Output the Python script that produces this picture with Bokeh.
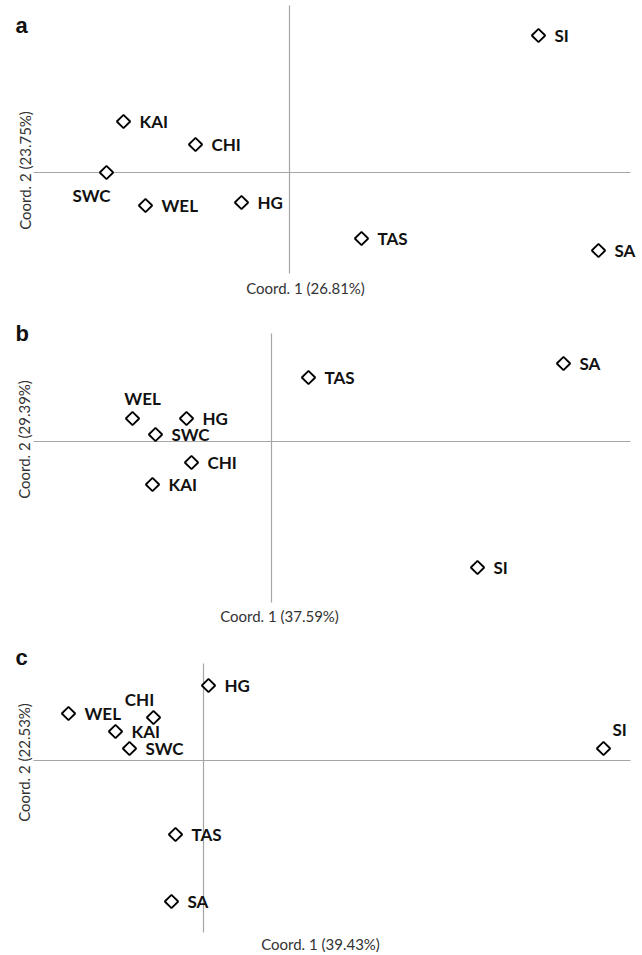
import math
from bokeh.plotting import figure
from bokeh.layouts import column
from bokeh.models import ColumnDataSource, Label
from bokeh.core.properties import value
from bokeh.embed import file_html
from bokeh.resources import INLINE

# ---------------- data ----------------
sites = ["SI", "KAI", "CHI", "SWC", "WEL", "HG", "TAS", "SA"]

a_coord1 = [0.249, -0.166, -0.094, -0.183, -0.144, -0.048, 0.072, 0.309]
a_coord2 = [0.137, 0.051, 0.028, 0.000, -0.033, -0.030, -0.066, -0.078]
a_pct = (26.81, 23.75)

b_coord1 = [0.206, -0.119, -0.080, -0.116, -0.139, -0.085, 0.037, 0.292]
b_coord2 = [-0.126, -0.043, -0.021, 0.007, 0.023, 0.023, 0.064, 0.078]
b_pct = (37.59, 29.39)

c_coord1 = [0.400, -0.088, -0.050, -0.074, -0.135, 0.005, -0.028, -0.032]
c_coord2 = [0.012, 0.029, 0.043, 0.012, 0.047, 0.075, -0.074, -0.141]
c_pct = (39.43, 22.53)

# ---------------- layout / style ----------------
W = 642
LABEL_FONT = "Lato"
AXIS_FONT = "Lato"
LETTER_FONT = "Liberation Sans"

panels = [
    dict(letter="a", c1=a_coord1, c2=a_coord2, pct=a_pct, h=300,
         xr=(-0.289, 0.353), yr=(-0.128, 0.172),
         hx=(-0.256, 0.341), vy=(-0.101, 0.167),
         x1lab=(0.016, -0.115), x2lab=(-0.265, 0.002), let=(-0.274, 0.147),
         special={"SWC": ("center", -15, 23)}),
    dict(letter="b", c1=b_coord1, c2=b_coord2, pct=b_pct, h=330,
         xr=(-0.271, 0.371), yr=(-0.189, 0.141),
         hx=(-0.238, 0.359), vy=(-0.161, 0.108),
         x1lab=(0.008, -0.174), x2lab=(-0.2475, 0.002), let=(-0.256, 0.108),
         special={"WEL": ("center", 10, -20)}),
    dict(letter="c", c1=c_coord1, c2=c_coord2, pct=c_pct, h=324,
         xr=(-0.203, 0.439), yr=(-0.194, 0.130),
         hx=(-0.170, 0.427), vy=(-0.172, 0.097),
         x1lab=(0.117, -0.183), x2lab=(-0.180, -0.002), let=(-0.188, 0.103),
         special={"CHI": ("center", -14, -18), "SI": ("left", 9, -19)}),
]


def make_panel(cfg):
    p = figure(width=W, height=cfg["h"], x_range=cfg["xr"], y_range=cfg["yr"],
               output_backend="svg", toolbar_location=None,
               x_axis_location=None, y_axis_location=None, min_border=0)
    p.grid.visible = False
    p.outline_line_color = None
    p.background_fill_color = "white"
    p.border_fill_color = "white"

    # axis cross lines through origin
    p.segment(x0=[cfg["hx"][0]], y0=[0], x1=[cfg["hx"][1]], y1=[0],
              line_color="#a6a6a6", line_width=1.2)
    p.segment(x0=[0], y0=[cfg["vy"][0]], x1=[0], y1=[cfg["vy"][1]],
              line_color="#a6a6a6", line_width=1.2)

    aligns, dxs, dys = [], [], []
    for s in sites:
        al, dx, dy = cfg["special"].get(s, ("left", 16, 0))
        aligns.append(al); dxs.append(dx); dys.append(dy)
    src = ColumnDataSource(dict(x=cfg["c1"], y=cfg["c2"], name=sites,
                                align=aligns, dx=dxs, dy=dys))
    p.scatter("x", "y", source=src, marker="square", size=9.5, angle=math.pi / 4,
              line_color="black", line_width=1.8, fill_color="white")
    p.text("x", "y", text="name", source=src, x_offset="dx", y_offset="dy",
           text_align="align", text_baseline="middle", text_font=value(LABEL_FONT),
           text_font_style="bold", text_font_size="17px", text_color="#111111")

    p.add_layout(Label(x=cfg["x1lab"][0], y=cfg["x1lab"][1],
                       text=f"Coord. 1 ({cfg['pct'][0]:.2f}%)",
                       text_align="center", text_baseline="middle",
                       text_font=AXIS_FONT, text_font_size="15px", text_color="#333333"))
    p.add_layout(Label(x=cfg["x2lab"][0], y=cfg["x2lab"][1],
                       text=f"Coord. 2 ({cfg['pct'][1]:.2f}%)", angle=math.pi / 2,
                       text_align="center", text_baseline="middle",
                       text_font=AXIS_FONT, text_font_size="15px", text_color="#333333"))
    p.add_layout(Label(x=cfg["let"][0], y=cfg["let"][1], text=cfg["letter"],
                       text_align="left", text_baseline="alphabetic",
                       text_font=LETTER_FONT, text_font_style="bold",
                       text_font_size="22px", text_color="#111111"))
    return p


figs = [make_panel(c) for c in panels]
layout = column(*figs, spacing=0)
open("out.html", "w").write(file_html(layout, INLINE))
